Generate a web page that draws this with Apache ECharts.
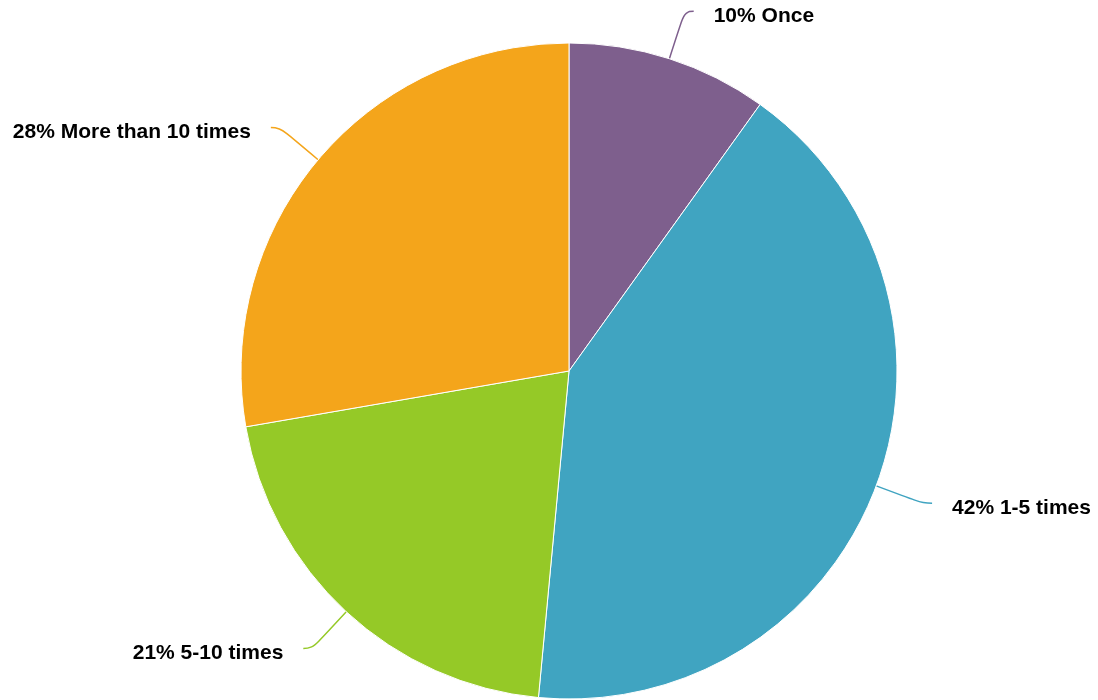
<!DOCTYPE html>
<html><head><meta charset="utf-8">
<script src="https://cdn.jsdelivr.net/npm/echarts@6/dist/echarts.min.js"></script>
<style>html,body{margin:0;padding:0;background:#fff}#c{width:1098px;height:700px}</style>
</head><body><div id="c"></div>
<script>
const categories = ['Once', '1-5 times', '5-10 times', 'More than 10 times'];
const values = [10, 42, 21, 28];
const colors = ['#7E5F8D', '#40A4C1', '#95C927', '#F4A51B'];

const chart = echarts.init(document.getElementById('c'), null, {renderer: 'canvas'});
chart.setOption({
  animation: false,
  series: [{
    type: 'pie',
    center: [569, 371],
    radius: 328,
    startAngle: 90,
    clockwise: true,
    avoidLabelOverlap: false,
    data: categories.map((c, i) => ({name: c, value: values[i], itemStyle: {color: colors[i]}})),
    itemStyle: {borderColor: '#fff', borderWidth: 1},
    label: {
      show: true,
      position: 'outside',
      formatter: '{t|{c}% {b}}',
      rich: {
        t: {
          fontFamily: 'Liberation Sans, Arial, sans-serif',
          fontWeight: 'bold',
          fontSize: 21,
          color: '#000',
          padding: [10, 0, 0, 0]
        }
      },
      distanceToLabelLine: 20
    },
    labelLine: {
      show: true,
      length: 50,
      length2: 9,
      smooth: 0.5,
      lineStyle: {width: 1.5}
    }
  }]
});
</script></body></html>
